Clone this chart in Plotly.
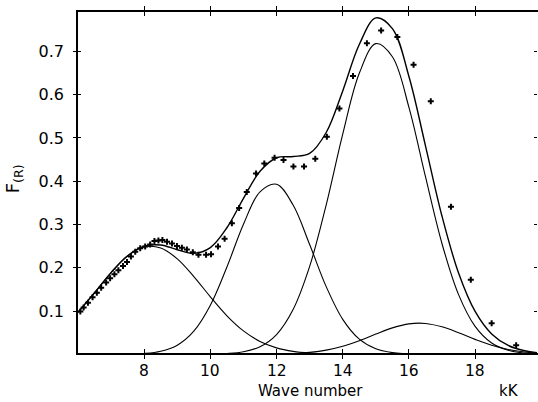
import plotly.graph_objects as go

# Wave number grid (kK) for the resolved band curves
wave = [6.0, 6.5, 7.0, 7.5, 8.0, 8.5, 9.0, 9.5, 10.0, 10.5, 11.0, 11.5, 12.0, 12.5,
        13.0, 13.5, 14.0, 14.5, 15.0, 15.5, 16.0, 16.5, 17.0, 17.5, 18.0, 18.5,
        19.0, 19.5, 19.9]

band_8 = [0.0971, 0.1422, 0.1887, 0.2272, 0.2480, 0.2456, 0.2206, 0.1797, 0.1328,
          0.0890, 0.0541, 0.0298, 0.0149, 0.0068, 0.0028, 0.0010, 0.0004, 0.0001,
          0, 0, 0, 0, 0, 0, 0, 0, 0, 0, 0]
band_12 = [0, 0, 0.0001, 0.0005, 0.0019, 0.0070, 0.0211, 0.0535, 0.1134, 0.2017,
           0.3005, 0.3754, 0.3930, 0.3449, 0.2537, 0.1564, 0.0808, 0.0350, 0.0127,
           0.0039, 0.0010, 0.0002, 0, 0, 0, 0, 0, 0, 0]
band_15 = [0, 0, 0, 0, 0, 0, 0, 0.0001, 0.0004, 0.0017, 0.0058, 0.0175, 0.0457,
           0.1035, 0.2031, 0.3454, 0.5088, 0.6494, 0.7179, 0.6877, 0.5707, 0.4103,
           0.2555, 0.1379, 0.0645, 0.0261, 0.0092, 0.0028, 0.0010]
band_16 = [0, 0, 0, 0, 0, 0, 0, 0, 0, 0, 0, 0.0002, 0.0006, 0.0018, 0.0045, 0.0097,
           0.0187, 0.0315, 0.0468, 0.0611, 0.0704, 0.0713, 0.0635, 0.0499, 0.0345,
           0.0209, 0.0112, 0.0053, 0.0026]
band_sum = [0.0971, 0.1422, 0.1888, 0.2277, 0.2499, 0.2526, 0.2417, 0.2333, 0.2466,
            0.2924, 0.3604, 0.4229, 0.4542, 0.4570, 0.4641, 0.5125, 0.6087, 0.7160,
            0.7774, 0.7527, 0.6421, 0.4818, 0.3190, 0.1878, 0.0990, 0.0470, 0.0204,
            0.0081, 0.0036]

# Measured remission function F(R)
obs_wave = [6.07, 6.17, 6.30, 6.44, 6.57, 6.70, 6.85, 6.97, 7.10, 7.22, 7.36, 7.48,
            7.60, 7.73, 7.88, 8.03, 8.18, 8.31, 8.43, 8.55, 8.69, 8.84, 8.99, 9.14,
            9.29, 9.47, 9.64, 9.87, 10.02, 10.23, 10.43, 10.65, 10.87, 11.10, 11.38,
            11.63, 11.94, 12.21, 12.51, 12.83, 13.17, 13.52, 13.90, 14.31, 14.73,
            15.16, 15.65, 16.14, 16.66, 17.27, 17.87, 18.50, 19.24]
obs_f = [0.099, 0.108, 0.119, 0.132, 0.142, 0.154, 0.166, 0.176, 0.185, 0.194, 0.204,
         0.213, 0.226, 0.237, 0.245, 0.249, 0.254, 0.262, 0.263, 0.264, 0.260, 0.256,
         0.250, 0.246, 0.242, 0.236, 0.230, 0.230, 0.231, 0.249, 0.267, 0.303, 0.338,
         0.375, 0.418, 0.441, 0.454, 0.449, 0.434, 0.434, 0.452, 0.503, 0.568, 0.643,
         0.719, 0.748, 0.733, 0.669, 0.585, 0.341, 0.172, 0.072, 0.021]

x_ticks = [8, 10, 12, 14, 16, 18]
x_tick_text = ["8", "10", "12", "14", "16", "18"]
y_ticks = [0.1, 0.2, 0.3, 0.4, 0.5, 0.6, 0.7]
y_tick_text = ["0.1", "0.2", "0.3", "0.4", "0.5", "0.6", "0.7"]

X_RANGE = [6.0, 19.87]
Y_RANGE = [0.003, 0.791]
FONT = "DejaVu Sans, Liberation Sans, Arial, sans-serif"
CLEAR = "rgba(0,0,0,0)"

fig = go.Figure()

for comp in (band_8, band_12, band_15, band_16):
    fig.add_trace(go.Scatter(x=wave, y=comp, mode="lines",
                             line=dict(color="black", width=1.1, shape="spline", smoothing=1.0),
                             hoverinfo="skip", showlegend=False))

fig.add_trace(go.Scatter(x=wave, y=band_sum, mode="lines",
                         line=dict(color="black", width=1.4, shape="spline", smoothing=1.0),
                         showlegend=False))

fig.add_trace(go.Scatter(x=obs_wave, y=obs_f, mode="markers",
                         marker=dict(symbol="cross", size=5, color="black"),
                         showlegend=False))

# invisible trace so the overlay axes (inner tick marks) get drawn
fig.add_trace(go.Scatter(x=wave, y=band_sum, xaxis="x2", yaxis="y2", mode="lines",
                         line=dict(width=0), opacity=0, hoverinfo="skip", showlegend=False))

# x tick labels set just under the axis
x_labels = [dict(text=t, x=v, xref="x", yref="paper", y=-0.053, showarrow=False,
                 xanchor="center", yanchor="middle", font=dict(size=15.5))
            for v, t in zip(x_ticks, x_tick_text)]

fig.update_layout(
    width=538, height=402,
    margin=dict(l=78, r=1, t=12, b=49),
    paper_bgcolor="white", plot_bgcolor="white",
    font=dict(family=FONT, size=16, color="black"),
    xaxis=dict(range=X_RANGE, tickvals=x_ticks, ticks="outside", ticklen=4, tickwidth=1.3,
               tickcolor="black", showline=True, linecolor="black", linewidth=1.5,
               mirror="ticks", showgrid=False, zeroline=False, showticklabels=False),
    yaxis=dict(range=Y_RANGE, tickvals=y_ticks, ticktext=y_tick_text, ticks="outside",
               ticklen=3, tickwidth=1.3, tickcolor="black", showline=True,
               linecolor="black", linewidth=1.5, showgrid=False, zeroline=False,
               ticklabelstandoff=6, tickfont=dict(size=16)),
    xaxis2=dict(range=X_RANGE, overlaying="x", side="bottom", tickvals=x_ticks,
                ticks="inside", ticklen=4, tickwidth=1.3, tickcolor="black",
                showline=True, linecolor=CLEAR, mirror="ticks", showticklabels=False,
                showgrid=False, zeroline=False),
    yaxis2=dict(range=Y_RANGE, overlaying="y", side="left", tickvals=y_ticks,
                ticks="inside", ticklen=3, tickwidth=1.1, tickcolor="black",
                showline=True, linecolor=CLEAR, mirror="ticks", showticklabels=False,
                showgrid=False, zeroline=False),
    annotations=x_labels + [
        dict(text="F<sub>(R)</sub>", xref="paper", yref="paper", x=-0.139, y=0.51,
             textangle=-90, showarrow=False, xanchor="center", yanchor="middle",
             font=dict(size=18)),
        dict(text="Wave number", xref="paper", yref="paper", x=0.506, y=-0.111,
             showarrow=False, xanchor="center", yanchor="middle",
             font=dict(size=15)),
        dict(text="kK", xref="paper", yref="paper", x=0.94, y=-0.112,
             showarrow=False, xanchor="center", yanchor="middle",
             font=dict(size=15)),
    ],
)

fig.write_html("out.html")
